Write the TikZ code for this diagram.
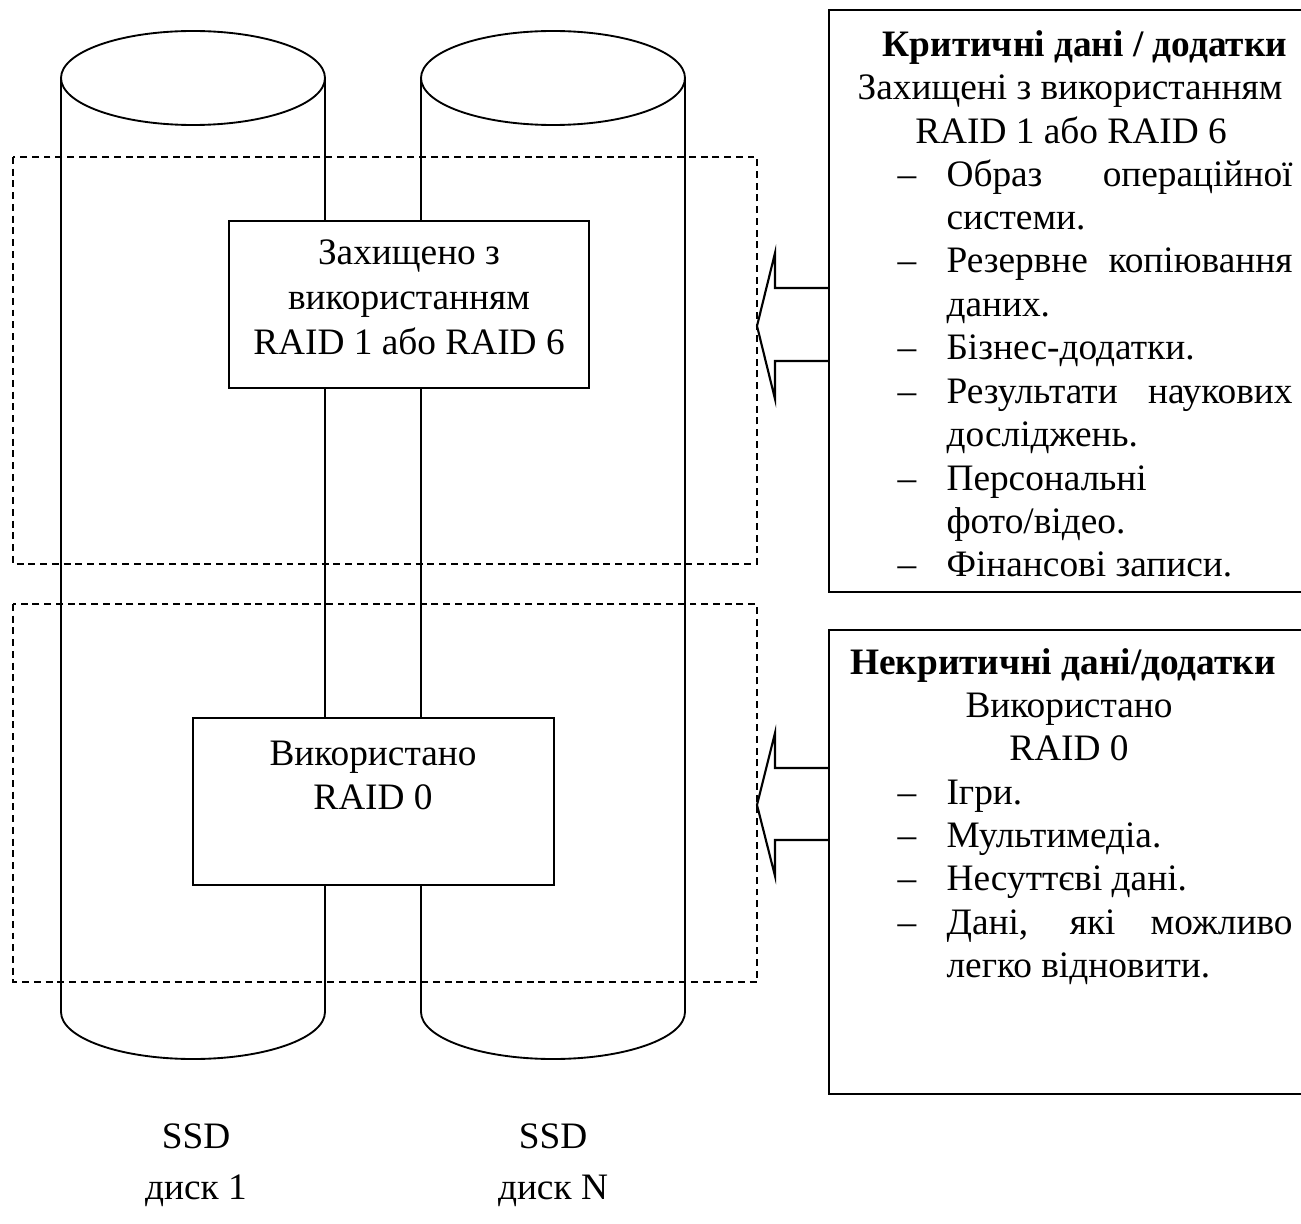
\documentclass[tikz,border=0pt]{standalone}
\usepackage{fontspec}
\setmainfont{Liberation Serif}
\newcommand{\jline}[1]{\makebox[129.75pt][s]{#1}}
\tikzset{
  txt/.style={inner sep=0pt,anchor=base,font=\fontsize{14pt}{16pt}\selectfont},
  ltxt/.style={txt,anchor=base west},
  btxt/.style={txt,font=\fontsize{14pt}{16pt}\selectfont\bfseries},
  zone/.style={line width=0.7pt,dash pattern=on 2.6pt off 1.8pt},
  disk/.style={line width=0.7pt},
  raidbox/.style={line width=0.7pt,fill=white},
  infobox/.style={line width=0.8pt}
}
\begin{document}
\begin{tikzpicture}[x=0.375pt,y=-0.375pt]
        \useasboundingbox (0,0) rectangle (1301,1223);
        % disks
        \draw [disk] (61,78) -- (61,1012) arc [start angle=180,end angle=0,x radius=132,y radius=47] -- (325,78);
        \draw [disk] (193,78) ellipse [x radius=132,y radius=47];
        \draw [disk] (421,78) -- (421,1012) arc [start angle=180,end angle=0,x radius=132,y radius=47] -- (685,78);
        \draw [disk] (553,78) ellipse [x radius=132,y radius=47];
        \node [txt] (ssd1) at (196,1148) {SSD};
        \node [txt] (disk1) at (196,1199) {диск 1};
        \node [txt] (ssdn) at (553,1148) {SSD};
        \node [txt] (diskn) at (553,1199) {диск N};
        % zones
        \draw [zone] (13,157) rectangle (757,564);
        \draw [zone] (13,604) rectangle (757,982);
        \draw [raidbox] (229,221) rectangle (589,388);
        \node [txt] (prot1) at (409,265) {Захищено з};
        \node [txt] (prot2) at (409,310) {використанням};
        \node [txt] (prot3) at (409,354) {RAID 1 або RAID 6};
        \draw [raidbox] (193,718) rectangle (554,885);
        \node [txt] (used1) at (373,765) {Використано};
        \node [txt] (used2) at (373,809) {RAID 0};
        % arrows
        \draw [infobox] (829,288) -- (775,288) -- (775,253) -- (757,326) -- (775,399) -- (775,361) -- (829,361);
        \draw [infobox] (829,768) -- (775,768) -- (775,733) -- (757,805) -- (775,876) -- (775,840) -- (829,840);
        % critical data
        \draw [infobox] (1301,10) -- (829,10) -- (829,592) -- (1301,592);
        \node [btxt] (crit) at (1085,57) {Критичні дані / додатки};
        \node [txt] (crit1) at (1070,100) {Захищені з використанням};
        \node [txt] (crit2) at (1071,144) {RAID 1 або RAID 6};
        \node [ltxt] (d1) at (897,187) {–};
        \node [ltxt] (os) at (946,187) {\jline{Образ операційної}};
        \node [ltxt] (os2) at (946,230) {системи.};
        \node [ltxt] (d2) at (897,273) {–};
        \node [ltxt] (bak) at (946,273) {\jline{Резервне копіювання}};
        \node [ltxt] (bak2) at (946,316) {даних.};
        \node [ltxt] (d3) at (897,360) {–};
        \node [ltxt] (biz) at (946,360) {Бізнес-додатки.};
        \node [ltxt] (d4) at (897,403) {–};
        \node [ltxt] (sci) at (946,403) {\jline{Результати наукових}};
        \node [ltxt] (sci2) at (946,446) {досліджень.};
        \node [ltxt] (d5) at (897,490) {–};
        \node [ltxt] (pers) at (946,490) {Персональні};
        \node [ltxt] (pers2) at (946,533) {фото/відео.};
        \node [ltxt] (d6) at (897,576) {–};
        \node [ltxt] (fin) at (946,576) {Фінансові записи.};
        % non-critical data
        \draw [infobox] (1301,630) -- (829,630) -- (829,1094) -- (1301,1094);
        \node [btxt] (ncrit) at (1063,674) {Некритичні дані/додатки};
        \node [txt] (ncrit1) at (1069,717) {Використано};
        \node [txt] (ncrit2) at (1069,760) {RAID 0};
        \node [ltxt] (e1) at (897,804) {–};
        \node [ltxt] (games) at (946,804) {Ігри.};
        \node [ltxt] (e2) at (897,847) {–};
        \node [ltxt] (media) at (946,847) {Мультимедіа.};
        \node [ltxt] (e3) at (897,890) {–};
        \node [ltxt] (minor) at (946,890) {Несуттєві дані.};
        \node [ltxt] (e4) at (897,934) {–};
        \node [ltxt] (easy) at (946,934) {\jline{Дані, які можливо}};
        \node [ltxt] (easy2) at (946,977) {легко відновити.};
\end{tikzpicture}
\end{document}
